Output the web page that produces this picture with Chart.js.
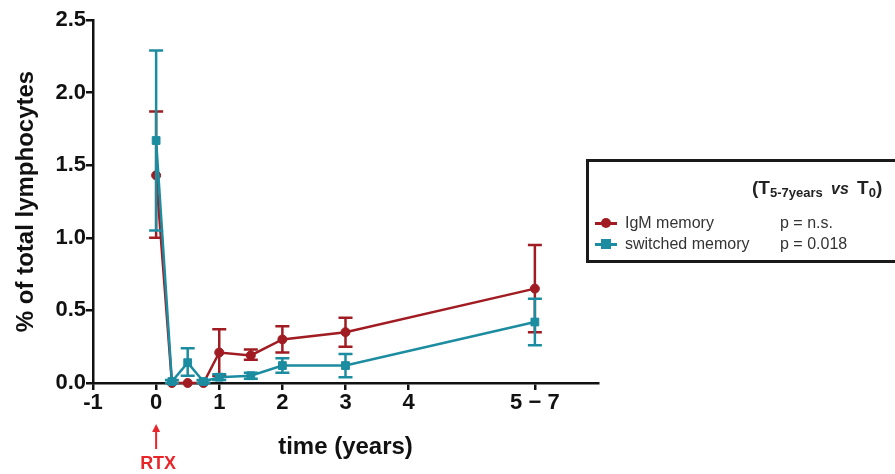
<!DOCTYPE html>
<html>
<head>
<meta charset="utf-8">
<script src="https://cdn.jsdelivr.net/npm/chart.js@4"></script>
<style>
  body { margin: 0; background: #fff; }
  #wrap { position: relative; width: 895px; height: 474px; font-family: "Liberation Sans", Arial, sans-serif; }
  #legend { position: absolute; left: 586px; top: 159px; width: 330px; height: 104px; border: 3px solid #1a1a1a; box-sizing: border-box; }
  #legend .hdr { position: absolute; left: 163px; top: 15px; font-size: 19px; font-weight: bold; color: #222; white-space: nowrap; }
  #legend .hdr sub { font-size: 13px; vertical-align: -3px; }
  #legend .hdr i { font-size: 16px; margin: 0 3px; }
  #legend .row { position: absolute; left: 6px; font-size: 16px; color: #333; white-space: nowrap; height: 20px; line-height: 20px; }
  #legend .mk { position: absolute; left: 0; top: 9px; width: 22px; height: 3px; }
  #legend .dot { position: absolute; left: 6px; top: -4px; width: 10px; height: 10px; }
  #legend .name { position: absolute; left: 30px; }
  #legend .p { position: absolute; left: 185px; }
</style>
</head>
<body>
<div id="wrap">
  <canvas id="chart" width="895" height="474"></canvas>
  <div id="legend">
    <div class="hdr">(T<sub>5-7years</sub> <i>vs</i> T<sub>0</sub>)</div>
    <div class="row" style="top:51px">
      <span class="mk" style="background:#a01c22"><span class="dot" style="background:#a01c22;border-radius:50%"></span></span>
      <span class="name">IgM memory</span><span class="p">p = n.s.</span>
    </div>
    <div class="row" style="top:72px">
      <span class="mk" style="background:#1c8ca0"><span class="dot" style="background:#1c8ca0"></span></span>
      <span class="name">switched memory</span><span class="p">p = 0.018</span>
    </div>
  </div>
</div>
<script>
// time points (years after RTX); 6 stands for the "5 - 7" group
const times = [0, 0.25, 0.5, 0.75, 1, 1.5, 2, 3, 6]
const xTicks = [-1, 0, 1, 2, 3, 4, 6]

// IgM memory
const igm = [1.43, 0.0, 0.0, 0.0, 0.21, 0.19, 0.30, 0.35, 0.65]
const igmLow = [1.00, 0.0, 0.0, 0.0, 0.05, 0.16, 0.21, 0.25, 0.35]
const igmHigh = [1.87, 0.0, 0.0, 0.0, 0.37, 0.23, 0.39, 0.45, 0.95]

// switched memory
const swm = [1.67, 0.01, 0.14, 0.01, 0.04, 0.05, 0.12, 0.12, 0.42]
const swmLow = [1.05, 0.0, 0.05, 0.0, 0.02, 0.03, 0.07, 0.04, 0.26]
const swmHigh = [2.29, 0.02, 0.24, 0.02, 0.06, 0.07, 0.17, 0.20, 0.58]

const red = '#a01c22'
const teal = '#1c8ca0'

const errorBars = {
  id: 'errorBars',
  afterDatasetDraw(chart, args) {
    const ds = chart.data.datasets[args.index]
    const ys = chart.scales.y
    const ctx = chart.ctx
    ctx.save()
    ctx.strokeStyle = ds.borderColor
    ctx.lineWidth = 2.5
    args.meta.data.forEach((pt, j) => {
      const top = ys.getPixelForValue(ds.high[j])
      const bot = ys.getPixelForValue(ds.low[j])
      if (bot - top < 2) return
      ctx.beginPath()
      ctx.moveTo(pt.x, top); ctx.lineTo(pt.x, bot)
      ctx.moveTo(pt.x - 7, top); ctx.lineTo(pt.x + 7, top)
      ctx.moveTo(pt.x - 7, bot); ctx.lineTo(pt.x + 7, bot)
      ctx.stroke()
    })
    ctx.restore()
  }
}

const rtxMark = {
  id: 'rtxMark',
  afterDraw(chart) {
    const ctx = chart.ctx
    const x = chart.scales.x.getPixelForValue(0)
    ctx.save()
    ctx.strokeStyle = '#e8262a'
    ctx.fillStyle = '#e8262a'
    ctx.lineWidth = 2
    ctx.beginPath()
    ctx.moveTo(x, 449); ctx.lineTo(x, 430)
    ctx.stroke()
    ctx.beginPath()
    ctx.moveTo(x, 424); ctx.lineTo(x - 4, 432); ctx.lineTo(x + 4, 432)
    ctx.closePath(); ctx.fill()
    ctx.font = 'bold 18px "Liberation Sans", Arial'
    ctx.textAlign = 'center'
    ctx.textBaseline = 'middle'
    ctx.fillText('RTX', x + 2, 464)
    ctx.restore()
  }
}

const ctx = document.getElementById('chart').getContext('2d')
const chart = new Chart(ctx, {
  type: 'line',
  data: {
    datasets: [{
      label: 'IgM memory',
      data: times.map((t, i) => ({ x: t, y: igm[i] })),
      low: igmLow,
      high: igmHigh,
      borderColor: red,
      backgroundColor: red,
      borderWidth: 2.5,
      pointStyle: 'circle',
      pointRadius: 4.5,
      pointBorderWidth: 1,
      order: 1,
      clip: false
    }, {
      label: 'switched memory',
      data: times.map((t, i) => ({ x: t, y: swm[i] })),
      low: swmLow,
      high: swmHigh,
      borderColor: teal,
      backgroundColor: teal,
      borderWidth: 2.5,
      pointStyle: 'rect',
      pointRadius: 5.5,
      pointBorderWidth: 1,
      order: 0,
      clip: false
    }]
  },
  options: {
    responsive: false,
    devicePixelRatio: 1,
    animation: false,
    layout: { padding: { top: 20, right: 297, left: 0, bottom: 0 } },
    plugins: {
      legend: { display: false },
      tooltip: { enabled: false }
    },
    scales: {
      x: {
        type: 'linear',
        min: -1,
        max: 7,
        afterBuildTicks: axis => { axis.ticks = xTicks.map(v => ({ value: v })) },
        afterFit: s => { s.height = 91 },
        ticks: {
          color: '#111',
          font: { family: '"Liberation Sans", Arial', size: 22, weight: 'bold' },
          padding: 0,
          maxRotation: 0,
          callback: v => v === 6 ? '5 − 7' : String(v)
        },
        grid: { drawOnChartArea: false, drawTicks: true, tickLength: 7, color: '#111', lineWidth: 2.5 },
        border: { color: '#111', width: 2.5 },
        title: {
          display: true,
          text: 'time (years)',
          color: '#111',
          font: { family: '"Liberation Sans", Arial', size: 24, weight: 'bold' },
          padding: { top: 0, bottom: 12 }
        }
      },
      y: {
        min: 0,
        max: 2.5,
        afterFit: s => { s.width = 93 },
        ticks: {
          stepSize: 0.5,
          color: '#111',
          font: { family: '"Liberation Sans", Arial', size: 22, weight: 'bold' },
          padding: 0,
          callback: v => v.toFixed(1)
        },
        grid: { drawOnChartArea: false, drawTicks: true, tickLength: 7, color: '#111', lineWidth: 2.5 },
        border: { color: '#111', width: 2.5 },
        title: {
          display: true,
          text: '% of total lymphocytes',
          color: '#111',
          font: { family: '"Liberation Sans", Arial', size: 24, weight: 'bold' },
          padding: { top: 12, bottom: 0 }
        }
      }
    }
  },
  plugins: [errorBars, rtxMark]
})
</script>
</body>
</html>
